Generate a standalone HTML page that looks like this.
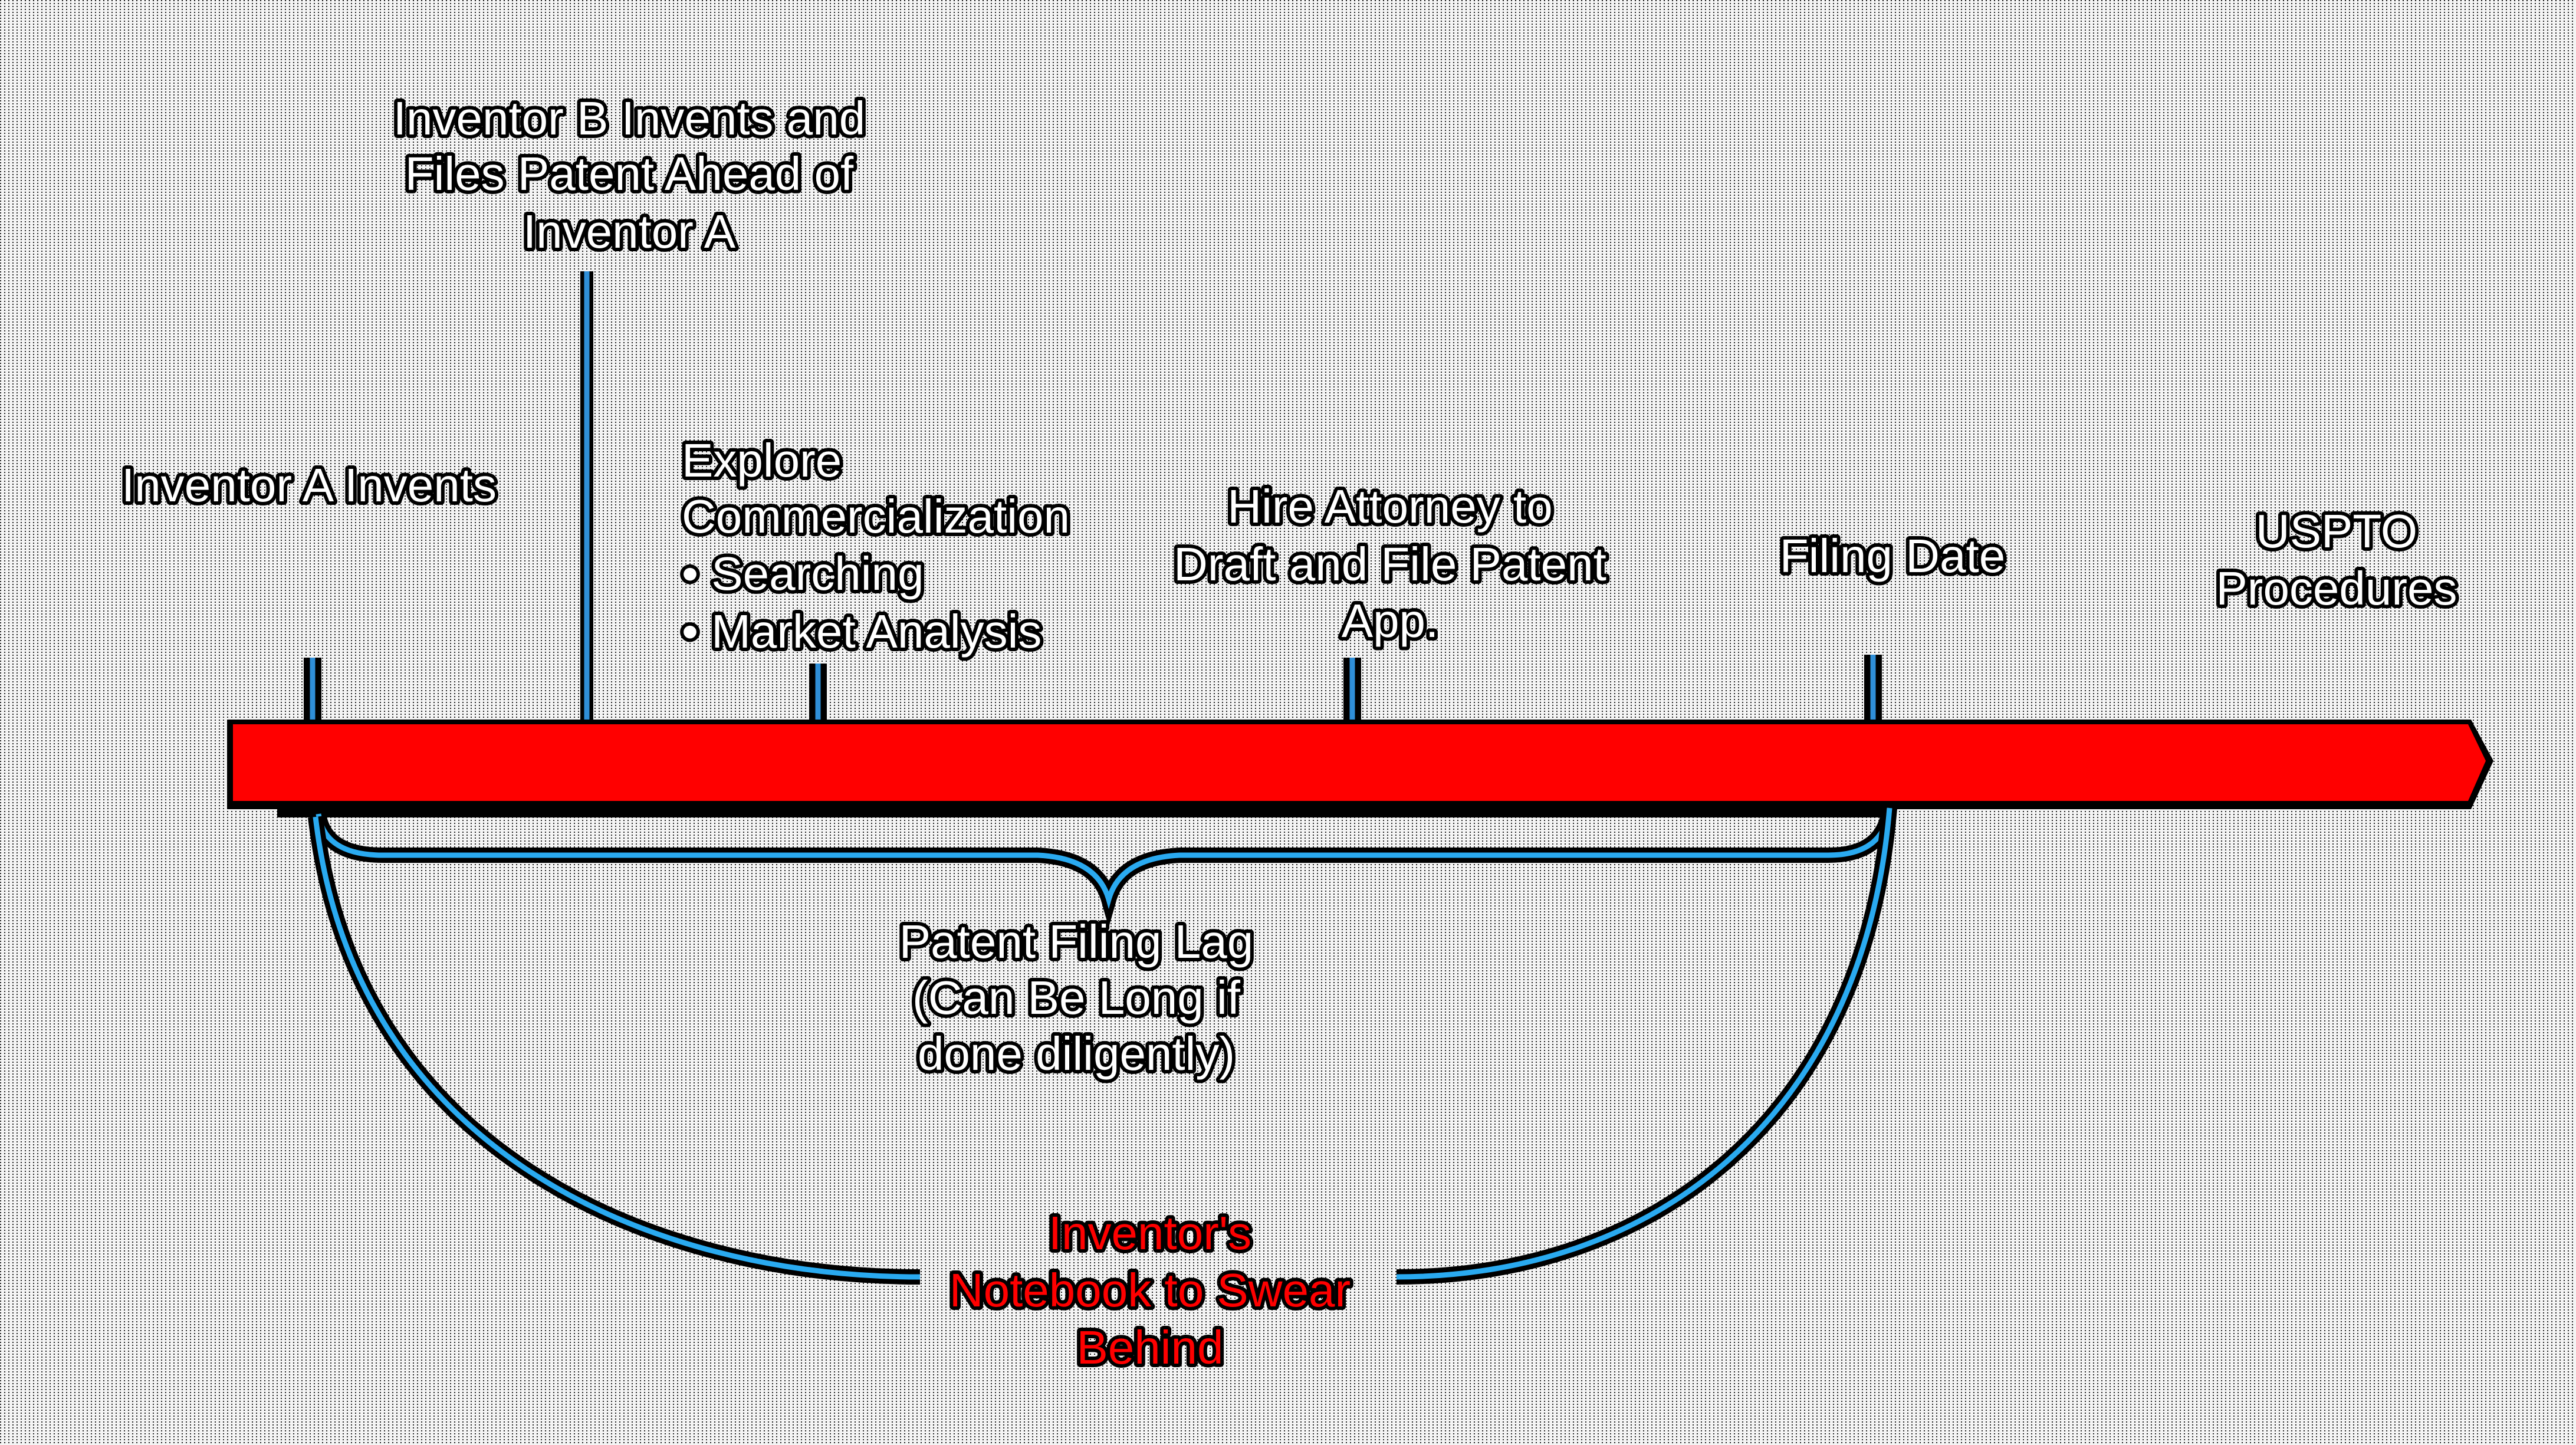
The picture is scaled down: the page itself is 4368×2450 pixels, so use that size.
<!DOCTYPE html>
<html><head><meta charset="utf-8"><style>
html,body{margin:0;padding:0;}
body{width:4368px;height:2450px;overflow:hidden;background:#e6e6e6;}
svg{display:block}
text{font-family:"Liberation Sans",sans-serif;font-size:80px;paint-order:stroke;stroke:#000;stroke-width:12px;stroke-linejoin:round;fill:#fff;}
</style></head><body>
<svg width="4368" height="2450" viewBox="0 0 4368 2450">
<defs>
<pattern id="dots" width="7" height="5" patternUnits="userSpaceOnUse">
<rect width="7" height="5" fill="#f4f4f4"/><rect x="0" y="0" width="2" height="2" fill="#222"/>
</pattern>
</defs>
<rect width="4368" height="2450" fill="url(#dots)"/>
<!-- vertical ticks -->
<g stroke-linecap="butt">
<line x1="995" y1="460" x2="995" y2="1226" stroke="#000" stroke-width="22"/>
<line x1="995" y1="460" x2="995" y2="1226" stroke="#2f8fd8" stroke-width="9"/>
<g stroke="#000" stroke-width="30"><line x1="530" y1="1115" x2="530" y2="1226"/><line x1="1387" y1="1125" x2="1387" y2="1226"/><line x1="2293" y1="1115" x2="2293" y2="1226"/><line x1="3176" y1="1110" x2="3176" y2="1226"/></g>
<g stroke="#2f8fd8" stroke-width="9"><line x1="530" y1="1115" x2="530" y2="1226"/><line x1="1387" y1="1125" x2="1387" y2="1226"/><line x1="2293" y1="1115" x2="2293" y2="1226"/><line x1="3176" y1="1110" x2="3176" y2="1226"/></g>
</g>
<!-- bar -->
<polygon points="385,1220 4190,1220 4228,1290 4190,1372 385,1372" fill="#000"/>
<polygon points="395,1228 4185,1228 4215,1290 4185,1358 395,1358" fill="#ff0000"/>
<rect x="470" y="1372" width="2740" height="14" fill="#000"/>
<!-- brace -->
<path d="M540,1380 Q550,1450 650,1450 L1760,1450 Q1860,1455 1880,1525 Q1900,1455 2000,1450 L3100,1450 Q3195,1450 3204,1370" fill="none" stroke="#000" stroke-width="26"/>
<path d="M540,1380 Q550,1450 650,1450 L1760,1450 Q1860,1455 1880,1525 Q1900,1455 2000,1450 L3100,1450 Q3195,1450 3204,1370" fill="none" stroke="#2aaaf0" stroke-width="9"/>
<!-- arc -->
<g fill="none">
<path d="M535,1385 C600,1950 1100,2165 1560,2165 M2368,2165 C2800,2165 3160,1900 3204,1370" stroke="#000" stroke-width="26"/>
<path d="M535,1385 C600,1950 1100,2165 1560,2165 M2368,2165 C2800,2165 3160,1900 3204,1370" stroke="#2aaaf0" stroke-width="9"/>
</g>
<!-- texts -->
<g text-anchor="middle">
<text x="1067" y="228">Inventor B Invents and</text>
<text x="1067" y="322">Files Patent Ahead of</text>
<text x="1067" y="420">Inventor A</text>
<text x="524" y="850">Inventor A Invents</text>
<text x="2357" y="886">Hire Attorney to</text>
<text x="2357" y="984">Draft and File Patent</text>
<text x="2357" y="1080">App.</text>
<text x="3209" y="970">Filing Date</text>
<text x="3962" y="928">USPTO</text>
<text x="3962" y="1025">Procedures</text>
<text x="1825" y="1624">Patent Filing Lag</text>
<text x="1825" y="1719">(Can Be Long if</text>
<text x="1825" y="1814">done diligently)</text>
<text x="1950" y="2118" fill="#ff0000" style="fill:#ff0000">Inventor's</text>
<text x="1950" y="2215" style="fill:#ff0000">Notebook to Swear</text>
<text x="1950" y="2312" style="fill:#ff0000">Behind</text>
</g>
<text x="1156" y="808">Explore</text>
<text x="1156" y="903">Commercialization</text>
<text x="1156" y="1000">• Searching</text>
<text x="1156" y="1098">• Market Analysis</text>
</svg>
</body></html>
